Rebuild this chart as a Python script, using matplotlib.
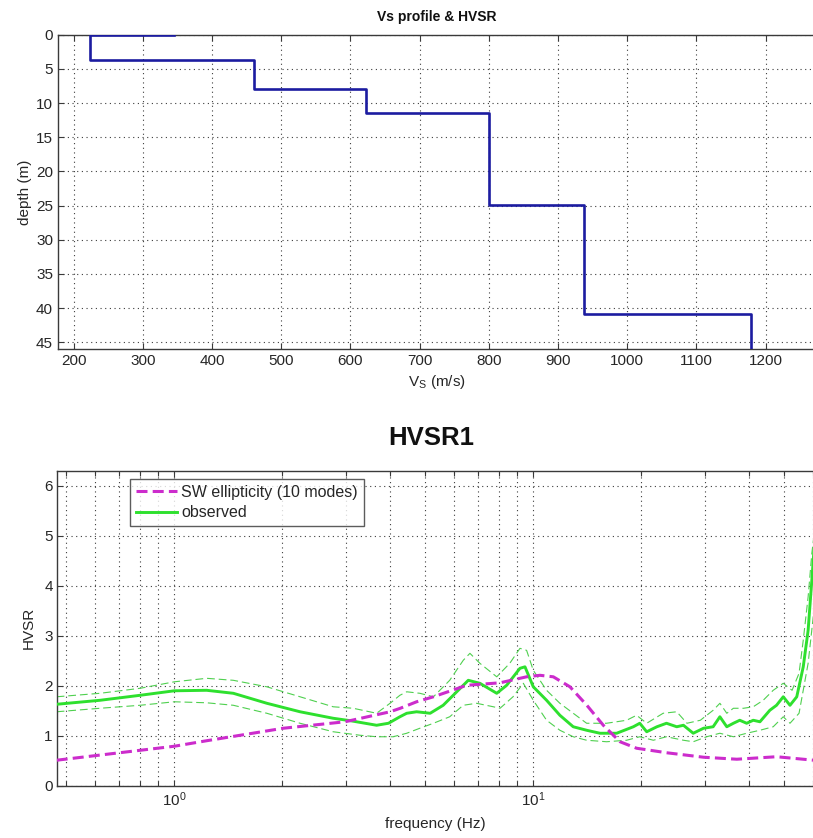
import numpy as np
import matplotlib
matplotlib.use('Agg')
import matplotlib.pyplot as plt
from matplotlib.ticker import FixedLocator, NullFormatter, FixedFormatter

plt.rcParams['font.family'] = ['Liberation Sans', 'DejaVu Sans']
plt.rcParams['mathtext.fontset'] = 'custom'
plt.rcParams['mathtext.rm'] = 'Liberation Sans'
plt.rcParams['mathtext.it'] = 'Liberation Sans:italic'
plt.rcParams['mathtext.bf'] = 'Liberation Sans:bold'

# ---------------- data ----------------
profile_vs = [345, 224, 224, 460, 460, 622, 622, 800, 800, 938, 938, 1179, 1179]
profile_depth = [0, 0, 3.7, 3.7, 7.9, 7.9, 11.4, 11.4, 24.9, 24.9, 40.9, 40.9, 46]

ell_freq = [0.47, 1.0, 1.23, 2.01, 2.99, 3.99, 4.26, 4.73, 5.27, 6.52, 8.08, 9.58,
            10.44, 11.37, 12.65, 14.1, 15.67, 17.44, 19.4, 23.5, 29.8, 36.9, 47.6, 60.5]
ell_hvsr = [0.51, 0.79, 0.90, 1.15, 1.28, 1.48, 1.55, 1.68, 1.78, 2.01, 2.06, 2.18,
            2.21, 2.18, 1.98, 1.61, 1.21, 0.88, 0.75, 0.66, 0.57, 0.53, 0.58, 0.51]

obs_freq = [0.47, 0.621, 0.803, 1.0, 1.23, 1.46, 1.81, 2.24, 2.77, 3.1, 3.66, 3.95,
            4.25, 4.44, 4.73, 5.16, 5.61, 6.12, 6.59, 7.1, 7.91, 8.43, 9.18, 9.48,
            10.0, 10.89, 11.86, 12.92, 14.08, 15.34, 17.07, 19.0, 19.8, 20.7, 22.1,
            23.5, 25.1, 26.2, 27.9, 29.8, 31.7, 33.1, 34.6, 36.1, 37.6, 39.3, 41.0,
            42.8, 45.6, 47.6, 49.7, 51.9, 54.2, 56.5, 58.3, 59.7, 60.5]
obs_hvsr = [1.63, 1.71, 1.81, 1.90, 1.91, 1.85, 1.65, 1.48, 1.35, 1.30, 1.21, 1.25,
            1.38, 1.45, 1.48, 1.45, 1.61, 1.88, 2.11, 2.05, 1.85, 2.01, 2.35, 2.38,
            1.98, 1.71, 1.41, 1.18, 1.11, 1.05, 1.05, 1.18, 1.25, 1.08, 1.18,
            1.25, 1.18, 1.21, 1.05, 1.15, 1.18, 1.38, 1.18, 1.25, 1.31, 1.25, 1.31,
            1.28, 1.51, 1.61, 1.78, 1.61, 1.78, 2.38, 3.11, 4.11, 4.70]

up_freq = [0.47, 0.621, 0.803, 1.0, 1.23, 1.46, 1.81, 2.24, 2.77, 3.15, 3.66, 3.99,
           4.25, 4.44, 4.83, 5.27, 5.85, 6.38, 6.66, 7.1, 7.91, 8.6, 9.18, 9.58,
           10.0, 10.89, 11.86, 12.92, 14.08, 16.0, 18.2, 19.4, 20.7, 23.0, 25.1,
           26.8, 29.2, 31.7, 33.1, 34.6, 36.1, 38.5, 41.0, 43.7, 46.6, 49.7, 52.6,
           55.0, 56.5, 58.3, 59.7, 60.5]
up_hvsr = [1.78, 1.85, 1.95, 2.08, 2.15, 2.11, 1.98, 1.78, 1.58, 1.55, 1.45, 1.65,
           1.81, 1.88, 1.85, 1.78, 2.11, 2.51, 2.65, 2.45, 2.18, 2.45, 2.75, 2.71,
           2.31, 1.91, 1.65, 1.45, 1.25, 1.25, 1.31, 1.41, 1.25, 1.45, 1.48,
           1.25, 1.31, 1.51, 1.65, 1.45, 1.55, 1.55, 1.58, 1.71, 1.91, 2.05, 1.91,
           2.25, 2.91, 3.78, 4.65, 5.00]

lo_freq = [0.47, 0.621, 0.803, 1.0, 1.23, 1.46, 1.81, 2.24, 2.77, 3.29, 3.66, 4.07,
           4.44, 4.83, 5.27, 5.85, 6.38, 6.95, 7.74, 8.08, 8.78, 9.38, 10.0, 10.89,
           11.86, 12.92, 14.08, 16.0, 18.2, 19.8, 21.6, 23.5, 26.2, 27.9, 30.4,
           33.1, 36.1, 39.3, 42.8, 46.6, 49.7, 51.9, 55.0, 56.5, 58.3, 60.5]
lo_hvsr = [1.48, 1.55, 1.61, 1.68, 1.66, 1.61, 1.45, 1.25, 1.08, 1.01, 0.98, 0.98,
           1.05, 1.15, 1.25, 1.38, 1.61, 1.65, 1.58, 1.55, 1.78, 2.05, 1.71, 1.31,
           1.11, 0.98, 0.91, 0.88, 0.91, 0.98, 0.91, 0.98, 0.91, 0.88, 0.98,
           1.05, 0.98, 1.05, 1.11, 1.18, 1.38, 1.25, 1.45, 1.91, 2.45, 3.50]

depth_ticks = list(range(0, 50, 5))
vs_ticks = list(range(200, 1300, 100))
hvsr_ticks = list(range(0, 7))
freq_major = [1, 10]
freq_major_labels = [r'$\mathregular{10^{0}}$', r'$\mathregular{10^{1}}$']
freq_minor = [0.5, 0.6, 0.7, 0.8, 0.9, 2, 3, 4, 5, 6, 7, 8, 9, 20, 30, 40, 50, 60]

# ---------------- style ----------------
W, H = 813, 838
TXT = '#262626'
SPINE = '#3a3a3a'
GRID = dict(color='#3c3c3c', linestyle=(0, (1, 3.2)), linewidth=0.8)

fig = plt.figure(figsize=(W / 100, H / 100), dpi=100)
fig.patch.set_facecolor('white')

def px_axes(left, top, right, bottom):
    return fig.add_axes([left / W, 1 - bottom / H, (right - left) / W, (bottom - top) / H])

def style_axes(ax):
    for s in ax.spines.values():
        s.set_color(SPINE)
        s.set_linewidth(1.0)
    ax.spines['right'].set_visible(False)
    ax.tick_params(which='both', direction='in', top=True, right=False,
                   colors=SPINE, labelcolor=TXT, labelsize=11, width=0.8)
    ax.tick_params(which='major', length=4)
    ax.tick_params(which='minor', length=3.5)
    ax.tick_params(axis='y', pad=3.2)
    ax.tick_params(axis='x', pad=3.6)

# ---------------- top: Vs profile ----------------
ax1 = px_axes(57.5, 34.7, 815.5, 349)
ax1.plot(profile_vs, profile_depth, color='#1c1ca0', linewidth=1.9, zorder=3)
ax1.set_xlim(176.6, 1272)
ax1.set_ylim(46, 0)
ax1.set_xticks(vs_ticks)
ax1.set_yticks(depth_ticks)
ax1.grid(True, **GRID)
style_axes(ax1)
ax1.set_ylabel('depth (m)', fontsize=11, color=TXT)
ax1.yaxis.set_label_coords(-0.034, 0.5)
ax1.set_xlabel(r'$\mathregular{V_S}$ (m/s)', fontsize=11, color=TXT)
ax1.xaxis.set_label_coords(0.5, -0.075)
fig.text(436.5 / W, 1 - 20.5 / H, 'Vs profile & HVSR', ha='center', va='baseline',
         fontsize=10, fontweight='bold', color='#111111')

# ---------------- bottom: HVSR ----------------
ax2 = px_axes(57.3, 471, 813.9, 785.7)
ax2.set_xscale('log')
g_up, = ax2.plot(up_freq, up_hvsr, color='#4fd04f', linewidth=0.8,
                 dashes=(7, 3.5), zorder=2)
g_lo, = ax2.plot(lo_freq, lo_hvsr, color='#4fd04f', linewidth=0.8,
                 dashes=(7, 3.5), zorder=2)
g_obs, = ax2.plot(obs_freq, obs_hvsr, color='#2ee02e', linewidth=2.1, zorder=3,
                  label='observed')
m_ell, = ax2.plot(ell_freq, ell_hvsr, color='#cc2ccc', linewidth=2.2,
                  dashes=(3.6, 1.7), zorder=4, label='SW ellipticity (10 modes)')
ax2.set_xlim(0.472, 60.5)
ax2.set_ylim(0, 6.3)
ax2.xaxis.set_major_locator(FixedLocator(freq_major))
ax2.xaxis.set_major_formatter(FixedFormatter(freq_major_labels))
ax2.xaxis.set_minor_locator(FixedLocator(freq_minor))
ax2.xaxis.set_minor_formatter(NullFormatter())
ax2.set_yticks(hvsr_ticks)
ax2.grid(True, which='both', **GRID)
style_axes(ax2)
ax2.set_ylabel('HVSR', fontsize=11, color=TXT)
ax2.yaxis.set_label_coords(-0.029, 0.5)
ax2.set_xlabel('frequency (Hz)', fontsize=11, color=TXT)
ax2.xaxis.set_label_coords(0.5, -0.098)
fig.text(431 / W, 1 - 445 / H, 'HVSR1', ha='center', va='baseline',
         fontsize=18.5, fontweight='bold', color='#111111')

leg = ax2.legend(handles=[m_ell, g_obs], loc='upper left',
                 bbox_to_anchor=((130 - 57.3) / 756.6, (785.7 - 479.3) / 314.7),
                 borderaxespad=0, fontsize=11.5, frameon=True, fancybox=False,
                 borderpad=0.36, labelspacing=0.32, handlelength=2.6,
                 handletextpad=0.25)
leg.get_frame().set_edgecolor('#333333')
leg.get_frame().set_linewidth(1.0)
for t in leg.get_texts():
    t.set_color(TXT)

fig.savefig('out.png', dpi=100, facecolor='white')
